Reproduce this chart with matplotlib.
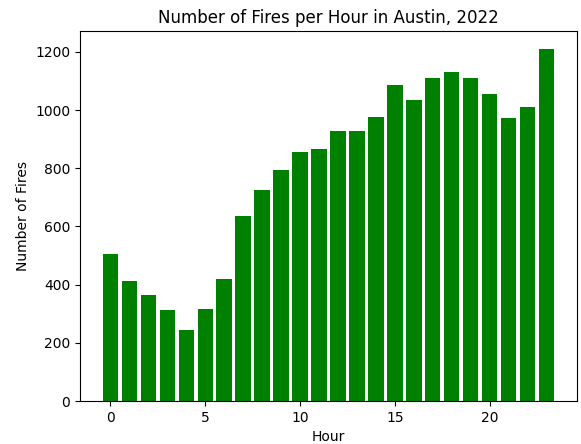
import numpy as np
import matplotlib
matplotlib.use("Agg")
import matplotlib.pyplot as plt

# hours of the day and fire counts
hours = list(range(24))
fires = [504, 414, 366, 312, 243, 317, 421, 635, 724, 793, 855, 865,
         928, 928, 976, 1086, 1034, 1109, 1130, 1109, 1054, 972, 1010, 1211]

fig = plt.figure(figsize=(5.81, 4.44), dpi=100)
ax = fig.add_axes([0.1377, 0.0968, 0.8554, 0.8333])
ax.bar(hours, fires, color='green')
ax.set_title("Number of Fires per Hour in Austin, 2022")
ax.set_xlabel("Hour")
ax.set_ylabel("Number of Fires")
fig.savefig("out.png", dpi=100)
